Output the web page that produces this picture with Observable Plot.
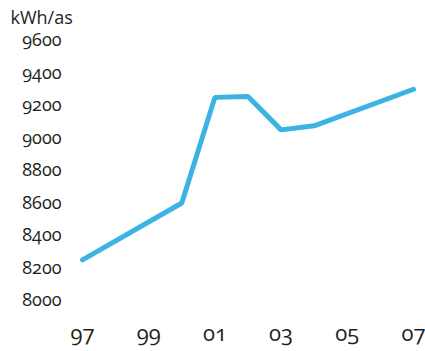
<!DOCTYPE html>
<html>
<head>
<meta charset="utf-8">
<script src="https://cdn.jsdelivr.net/npm/d3@7"></script>
<script src="https://cdn.jsdelivr.net/npm/@observablehq/plot@0.6"></script>
<style>
  html, body { margin: 0; padding: 0; background: #fff; }
  #chart svg { font-family: "Open Sans", sans-serif; font-variant-numeric: oldstyle-nums; font-feature-settings: "onum" 1; }
</style>
</head>
<body>
<div id="chart"></div>
<script>
const years = [1997, 2000, 2001, 2002, 2003, 2004, 2007];
const values = [8250, 8600, 9250, 9255, 9050, 9075, 9300];
const yTicks = [8000, 8200, 8400, 8600, 8800, 9000, 9200, 9400, 9600];
const xTicks = [1997, 1999, 2001, 2003, 2005, 2007];
const unitLabel = "kWh/as";

const data = years.map((y, i) => ({year: y, value: values[i]}));

const chart = Plot.plot({
  width: 425,
  height: 351,
  marginLeft: 82,
  marginRight: 12,
  marginTop: 40,
  marginBottom: 51,
  style: {color: "#231f20", background: "#fff"},
  x: {domain: [1997, 2007], label: null},
  y: {domain: [8000, 9600], label: null},
  marks: [
    Plot.axisX({ticks: xTicks, tickFormat: d => String(d).slice(2), tickSize: 0, tickPadding: 25, label: null, fontSize: 22}),
    Plot.axisY({ticks: yTicks, tickFormat: d => String(d), tickSize: 0, tickPadding: 21, label: null, fontSize: 18}),
    Plot.line(data, {x: "year", y: "value", stroke: "#3bb3e3", strokeWidth: 5, strokeLinecap: "round", strokeLinejoin: "miter"}),
    Plot.text([unitLabel], {frameAnchor: "top-left", text: d => d, dx: -72, dy: -17, lineAnchor: "bottom", textAnchor: "start", fontSize: 18, fill: "#231f20"})
  ]
});
document.getElementById("chart").appendChild(chart);
</script>
</body>
</html>
